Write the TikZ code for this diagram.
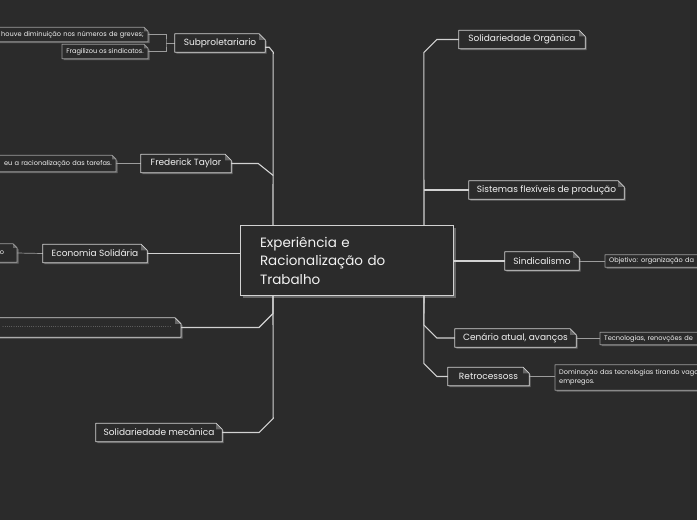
\documentclass[tikz,border=0pt]{standalone}
\usepackage{fontspec}
\setmainfont{Poppins}
\usetikzlibrary{calc,backgrounds}
\definecolor{bgc}{HTML}{2B2B2B}
\definecolor{edgec}{HTML}{D2D2D2}
\definecolor{subc}{HTML}{9C9C9C}
\definecolor{shadc}{HTML}{666666}
\definecolor{txtc}{HTML}{F2F2F2}
\begin{document}
\begin{tikzpicture}[x=1pt,y=-1pt,
  topic/.style={fill=bgc, text=txtc, font=\fontsize{9}{10.5}\selectfont,
    minimum height=18pt, inner xsep=6pt, inner ysep=0pt},
  leaf/.style={fill=bgc, text=txtc, font=\fontsize{6.6}{8.5}\selectfont,
    minimum height=14pt, inner xsep=4pt, inner ysep=2.5pt},
  trunk/.style={draw=edgec, line width=1.1pt},
  twig/.style={draw=subc, line width=0.7pt}]
  \useasboundingbox (0,0) rectangle (697,520);
  \def\tl{273} \def\tr{424}
  \coordinate (tl) at (\tl,0);
  \coordinate (tr) at (\tr,0);
  % central topic
  \node[fill=bgc, text=txtc, minimum height=69pt, text width=174pt, align=left,
    inner xsep=19pt, font=\fontsize{13.5}{18.5}\selectfont] (main) at (347,260.5)
    {Experiência e\\Racionalização do\\Trabalho};
  % left side
  \node[topic, minimum width=90pt] (subp) at (220,43) {Subproletariario};
  \node[topic, minimum width=90pt] (taylor) at (186,163.5) {Frederick Taylor};
  \node[topic, minimum width=104pt] (econ) at (95,253.5) {Economia Solidária};
  \node[topic, anchor=east, inner xsep=9pt, minimum height=19pt,
    font=\fontsize{5}{6}\selectfont] (dots) at (181,327.5) {\hbox to 170pt{\dotfill}};
  \node[topic, minimum width=126pt] (mecan) at (159,432.5) {Solidariedade mecânica};
  \node[leaf, anchor=east, text width=145pt, align=right] (greves) at (148,34.5)
    {houve diminuição nos números de greves;};
  \node[leaf, anchor=east] (frag) at (148,51.5) {Fragilizou os sindicatos.};
  \node[leaf, anchor=east, minimum height=16pt, text width=130pt, align=right] (tarefas)
    at (116,163.5) {eu a racionalização das tarefas.};
  \node[leaf, anchor=east, minimum height=18pt, text width=13pt, align=left] (econsub)
    at (17,253) {o};
  % right side
  \node[topic, minimum width=126pt] (org) at (522,39.5) {Solidariedade Orgânica};
  \node[topic, minimum width=155pt] (sist) at (546.5,190) {Sistemas flexíveis de produção};
  \node[topic, minimum width=74pt] (sind) at (542,261) {Sindicalismo};
  \node[topic, minimum width=121pt] (cenario) at (515.5,338) {Cenário atual, avanços};
  \node[topic, minimum width=81pt] (retro) at (488.5,376.5) {Retrocessoss};
  \node[leaf, anchor=west, minimum height=12pt, text width=130pt, align=left] (obj)
    at (605,261) {Objetivo: organização da};
  \node[leaf, anchor=west, minimum height=12pt, text width=130pt, align=left] (tec)
    at (600,338.5) {Tecnologias, renovções de};
  \node[leaf, anchor=west, minimum height=25pt, text width=160pt, align=left] (dom)
    at (555,377.5) {Dominação das tecnologias tirando vagas\\empregos.};

  \begin{pgfonlayer}{background}
    \fill[bgc] (0,0) rectangle (697,520);
    \fill[shadc] ($(main.north west)+(2.5,2.5)$) rectangle ($(main.south east)+(2.5,2.5)$);
    \foreach \n/\e in {subp/6,taylor/6,econ/6,dots/6,mecan/6,org/6,sist/6,sind/6,
        cenario/6,retro/6,greves/4,frag/4,tarefas/4,econsub/4,obj/4,tec/4,dom/4} {
      \fill[shadc] ($(\n.north west)+(1.5,1.5)$) -- ($(\n.north east)+(1.5-\e,1.5)$)
        -- ($(\n.north east)+(1.5,1.5+\e)$) -- ($(\n.south east)+(1.5,1.5)$)
        -- ($(\n.south west)+(1.5,1.5)$) -- cycle;
    }
    % connectors
    \draw[trunk] ($(subp.south east)+(0,-5)$) -- ++(4,0) -- ++(4,5) -- (main.north -| tl);
    \draw[trunk] (taylor.east) -- ++(27,0) -- ++(15,12);
    \draw[trunk] (econ.east) -- (econ.east -| main.west);
    \draw[trunk] (dots.east) -- ++(78,0) -- ++(14,-14) -- (main.south -| tl);
    \draw[trunk] (mecan.east) -- ++(37,0) -- ++(14,-14) -- (main.south -| tl);
    \draw[trunk] (org.west) -- ++(-22,0) -- ++(-13,13) -- (main.north -| tr);
    \draw[trunk] (sist.west) -- (sist.west -| tr);
    \draw[trunk] (main.east |- sind.west) -- (sind.west);
    \draw[trunk] (cenario.west) -- ++(-18,0) -- ++(-13,-13) -- (main.south -| tr);
    \draw[trunk] (retro.west) -- ++(-11,0) -- ++(-13,-13) -- (main.south -| tr);
    \coordinate (fork) at (166,43);
    \draw[twig] (subp.west) -- (fork) (greves.east) -| (fork) |- (frag.east);
    \draw[twig] (taylor.west) -- (tarefas.east);
    \draw[twig] (econ.west) -- (econsub.east);
    \draw[twig] (sind.east) -- (obj.west);
    \draw[twig] (cenario.east) -- (cenario.east -| tec.west);
    \draw[twig] (retro.east) -- (retro.east -| dom.west);
  \end{pgfonlayer}

  % outlines with folded corner
  \draw[edgec, line width=1pt] (main.north west) rectangle (main.south east);
  \foreach \n/\e/\c in {subp/6/edgec,taylor/6/edgec,econ/6/edgec,dots/6/edgec,
      mecan/6/edgec,org/6/edgec,sist/6/edgec,sind/6/edgec,cenario/6/edgec,retro/6/edgec,
      greves/4/subc,frag/4/subc,tarefas/4/subc,econsub/4/subc,obj/4/subc,tec/4/subc,dom/4/subc} {
    \fill[shadc] ($(\n.north east)+(-\e,0)$) -- ($(\n.north east)+(-\e,\e)$)
      -- ($(\n.north east)+(0,\e)$) -- cycle;
    \draw[\c, line width=0.8pt, line join=round] (\n.north west) -- ($(\n.north east)+(-\e,0)$)
      -- ($(\n.north east)+(0,\e)$) -- (\n.south east) -- (\n.south west) -- cycle;
  }
\end{tikzpicture}
\end{document}
